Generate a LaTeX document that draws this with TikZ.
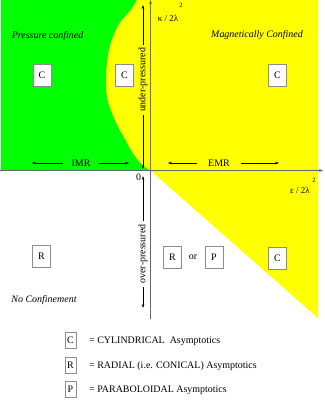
\documentclass[tikz,border=0pt]{standalone}
\usepackage{fontspec}
\setmainfont{Liberation Serif}
\usetikzlibrary{arrows.meta}
\definecolor{pgreen}{RGB}{0,255,0}
\definecolor{pyellow}{RGB}{255,255,0}
\begin{document}
\begin{tikzpicture}[x=1bp,y=-1bp,
  font=\fontsize{10}{12}\selectfont,
  box/.style={draw=black!45, fill=white, line width=0.6bp, minimum width=18bp, minimum height=22bp, inner sep=0pt},
  lbox/.style={draw=black!45, fill=white, line width=0.6bp, minimum width=11bp, minimum height=16bp, inner sep=0pt},
  arr/.style={-{Stealth[length=4bp,width=2.6bp]}, line width=0.4bp, draw=black},
  axisline/.style={line width=0.7bp, draw=black!60},
  axarr/.style={-{Stealth[length=4bp,width=3bp]}},
  lab/.style={inner sep=0pt},
  sup/.style={inner sep=0pt, font=\fontsize{6.5}{7}\selectfont}]
\useasboundingbox (0,0) rectangle (325,404);
\def\bcurve{(137,0) (131,10) (122,20) (116,30) (112,40) (109,50) (107.5,60) (106.5,70) (106,80) (106.3,90) (107.7,100) (111,110) (115,120) (120,130) (125.7,140) (131,150) (138,160) (145,167) (150.5,170.5)}
% regions
\fill[pgreen] (1,0) -- plot[smooth] coordinates {\bcurve} -- (1,170.5) -- cycle;
\fill[pyellow] (318,0) -- plot[smooth] coordinates {\bcurve} -- (318,170.5) -- cycle;
\fill[pyellow] (150.5,170.5) -- (318,170.5) -- (318,318) -- cycle;
% axes
\coordinate (O) at (150.5,170.5);
\coordinate (ytop) at (150.5,0);
\coordinate (ybot) at (150.5,319);
\coordinate (xl) at (0,170.5);
\coordinate (xr) at (323,170.5);
\draw[axisline] (xl) -- (O);
\draw[axisline,axarr] (O) -- (xr);
\draw[axisline] (ybot) -- (O);
\draw[axisline,axarr] (O) -- (ytop);
% axis labels
\node[lab, font=\fontsize{9}{10}\selectfont] (klab) at (168,18) {κ / 2λ};
\node[sup] (ksup) at (181,5) {2};
\node[lab, font=\fontsize{9}{10}\selectfont] (elab) at (300,190) {ε / 2λ};
\node[sup] (esup) at (314,180) {2};
\node[lab] (zero) at (138.5,177) {0};
% region labels
\node[lab] (pc) at (47.5,36) {\itshape Pressure confined};
\node[lab] (mc) at (257,35) {\itshape Magnetically Confined};
\node[lab] (nc) at (44,300) {\itshape No Confinement};
% boxes
\node[box] (c1) at (42,75) {C};
\node[box] (c2) at (124.5,75) {C};
\node[box] (c3) at (277.5,75) {C};
\node[box] (r1) at (41.5,256) {R};
\node[box] (r2) at (172.5,257) {R};
\node[lab] (or) at (193,257) {or};
\node[box] (p1) at (214,257) {P};
\node[box] (c4) at (277.5,258.5) {C};
% arrows
\node[rotate=90, inner xsep=2.5bp, inner ysep=0pt] (under) at (143,80) {under-pressured};
\coordinate (underT) at (143,5);
\coordinate (underB) at (143,169);
\draw[arr] (under.east) -- (underT);
\draw[arr] (under.west) -- (underB);
\node[rotate=90, inner xsep=3bp, inner ysep=0pt] (over) at (143,254) {over-pressured};
\coordinate (overT) at (143,176);
\coordinate (overB) at (143,308);
\draw[arr] (over.east) -- (overT);
\draw[arr] (over.west) -- (overB);
\node[inner xsep=8bp, inner ysep=0pt] (imr) at (81,163) {IMR};
\coordinate (imrL) at (32,163);
\coordinate (imrR) at (129,163);
\draw[arr] (imr.west) -- (imrL);
\draw[arr] (imr.east) -- (imrR);
\node[inner xsep=11bp, inner ysep=0pt] (emr) at (219,163) {EMR};
\coordinate (emrL) at (168,163);
\coordinate (emrR) at (279,163);
\draw[arr] (emr.west) -- (emrL);
\draw[arr] (emr.east) -- (emrR);
% legend
\node[lbox] (lc) at (70.5,340) {C};
\node[lbox] (lr) at (70.5,365) {R};
\node[lbox] (lp) at (70.5,389) {P};
\node[lab, anchor=base west] (tc) at (89,343.5) {= CYLINDRICAL\ \ Asymptotics};
\node[lab, anchor=base west] (tr) at (89,368.5) {= RADIAL (i.e. CONICAL) Asymptotics};
\node[lab, anchor=base west] (tp) at (89,392.5) {= PARABOLOIDAL Asymptotics};
\end{tikzpicture}
\end{document}
